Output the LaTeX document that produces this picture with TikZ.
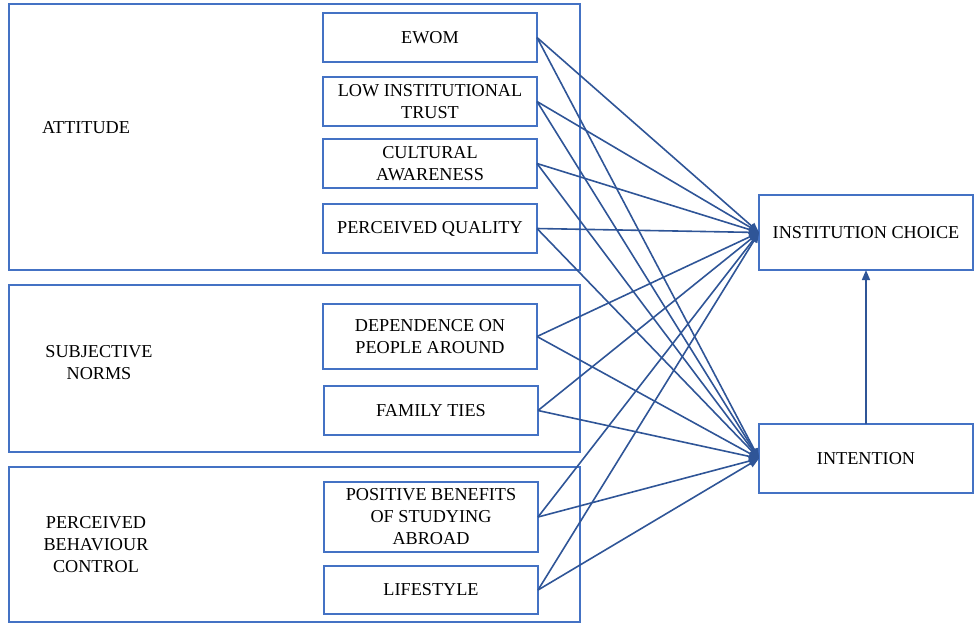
\documentclass[tikz,border=0pt]{standalone}
\usepackage{fontspec}
\setmainfont{Liberation Serif}
\newfontfamily\boxfont{Liberation Serif}
\usetikzlibrary{arrows.meta}
\definecolor{boxblue}{RGB}{68,114,196}
\definecolor{arrowblue}{RGB}{47,85,151}

\begin{document}
\begin{tikzpicture}[x=1pt,y=-1pt]
  \tikzset{GroupStyle/.style = {
    shape         = rectangle,
    draw          = boxblue,
    line width    = 1.4pt,
    minimum width = 571pt,
    inner sep     = 0pt,
    outer sep     = 0pt
    }
  }
  \tikzset{LabelStyle/.style = {
    align         = center,
    text          = black,
    font          = \boxfont\fontsize{18.2}{22}\selectfont,
    inner sep     = 0pt
    }
  }
  \tikzset{FactorStyle/.style = {
    shape         = rectangle,
    draw          = boxblue,
    fill          = white,
    line width    = 1.1pt,
    align         = center,
    text          = black,
    font          = \boxfont\fontsize{18.2}{22}\selectfont,
    minimum width = 214pt,
    inner sep     = 0pt,
    outer sep     = 0pt
    }
  }
  \tikzset{ArrowStyle/.style = {
    draw          = arrowblue,
    line width    = 1.6pt,
    -{Triangle[length=10pt,width=8pt]}
    }
  }
  \useasboundingbox (0,0) rectangle (979,625);

  % groups
  \node[GroupStyle, minimum height=266pt](attBox) at (294.5, 137) {};
  \node[GroupStyle, minimum height=167pt](normBox) at (294.5, 368.5) {};
  \node[GroupStyle, minimum height=155pt](pbcBox) at (294.5, 544.5) {};
  \node[LabelStyle](att) at (86, 128) {ATTITUDE};
  \node[LabelStyle](norm) at (99, 363) {SUBJECTIVE\\NORMS};
  \node[LabelStyle](pbc) at (96, 545) {PERCEIVED\\BEHAVIOUR\\CONTROL};

  % factors
  \node[FactorStyle, minimum height=49pt](ewom) at (430, 37.5) {EWOM};
  \node[FactorStyle, minimum height=49pt](trust) at (430, 101.5) {LOW INSTITUTIONAL\\TRUST};
  \node[FactorStyle, minimum height=49pt](culture) at (430, 163.5) {CULTURAL\\AWARENESS};
  \node[FactorStyle, minimum height=49pt](quality) at (430, 228.5) {PERCEIVED QUALITY};
  \node[FactorStyle, minimum height=65pt](people) at (430, 336.5) {DEPENDENCE ON\\PEOPLE AROUND};
  \node[FactorStyle, minimum height=49pt](family) at (431, 410.5) {FAMILY TIES};
  \node[FactorStyle, minimum height=70pt](benefits) at (431, 517) {POSITIVE BENEFITS\\OF STUDYING\\ABROAD};
  \node[FactorStyle, minimum height=48pt](lifestyle) at (431, 590) {LIFESTYLE};

  % outcomes
  \node[FactorStyle, minimum height=75pt](choice) at (866, 232.5) {INSTITUTION CHOICE};
  \node[FactorStyle, minimum height=69pt](intention) at (866, 458.5) {INTENTION};

  \draw[ArrowStyle](ewom.east) -- (choice.west);
  \draw[ArrowStyle](ewom.east) -- (intention.west);
  \draw[ArrowStyle](trust.east) -- (choice.west);
  \draw[ArrowStyle](trust.east) -- (intention.west);
  \draw[ArrowStyle](culture.east) -- (choice.west);
  \draw[ArrowStyle](culture.east) -- (intention.west);
  \draw[ArrowStyle](quality.east) -- (choice.west);
  \draw[ArrowStyle](quality.east) -- (intention.west);
  \draw[ArrowStyle](people.east) -- (choice.west);
  \draw[ArrowStyle](people.east) -- (intention.west);
  \draw[ArrowStyle](family.east) -- (choice.west);
  \draw[ArrowStyle](family.east) -- (intention.west);
  \draw[ArrowStyle](benefits.east) -- (choice.west);
  \draw[ArrowStyle](benefits.east) -- (intention.west);
  \draw[ArrowStyle](lifestyle.east) -- (choice.west);
  \draw[ArrowStyle](lifestyle.east) -- (intention.west);
  \draw[ArrowStyle](intention.north) -- (choice.south);

\end{tikzpicture}
\end{document}
